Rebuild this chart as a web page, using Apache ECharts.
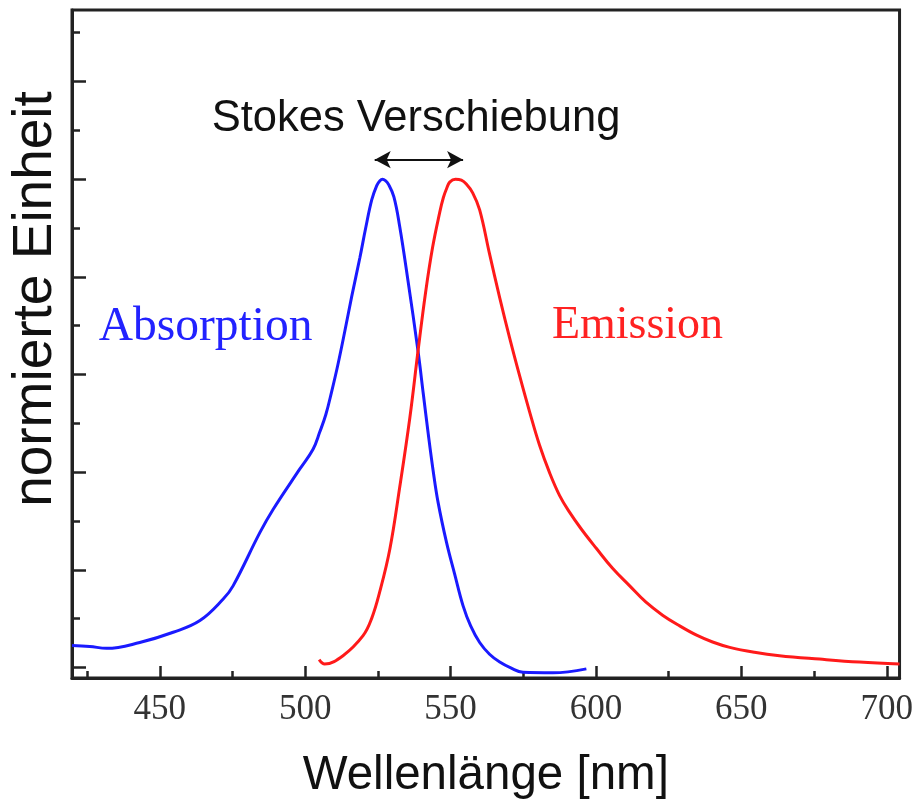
<!DOCTYPE html>
<html>
<head>
<meta charset="utf-8">
<script src="https://cdn.jsdelivr.net/npm/echarts@6/dist/echarts.min.js"></script>
<style>
  html, body { margin: 0; padding: 0; background: #ffffff; }
  #chart { width: 916px; height: 805px; }
</style>
</head>
<body>
<div id="chart"></div>
<script>
// Absorption spectrum (normalised)
const absWavelength = [419.8, 425.9, 431.7, 443.1, 454.6, 463.8, 471.8, 475.2, 484.4, 489.0,
  498.1, 502.7, 505.0, 507.1, 509.1, 511.2, 513.6, 516.0, 518.8, 520.8,
  522.9, 524.6, 525.7, 526.6, 527.6, 528.6, 530.5, 532.5, 535.3, 538.8,
  540.6, 542.3, 544.0, 545.7, 548.6, 551.4, 554.3, 556.9, 560.0, 563.4,
  566.9, 570.7, 574.9, 585.2, 596.7];
const absIntensity = [0.045, 0.043, 0.039, 0.051, 0.072, 0.096, 0.140, 0.167, 0.276, 0.324,
  0.406, 0.447, 0.482, 0.518, 0.565, 0.619, 0.688, 0.760, 0.839, 0.900,
  0.958, 0.987, 0.997, 1.000, 0.997, 0.990, 0.964, 0.903, 0.794, 0.648,
  0.561, 0.479, 0.403, 0.338, 0.256, 0.191, 0.126, 0.085, 0.051, 0.027,
  0.011, -0.001, -0.010, -0.011, -0.003];

// Emission spectrum (normalised)
const emWavelength = [504.8, 506.7, 513.0, 519.9, 522.9, 525.6, 529.1, 532.5, 536.0, 538.8,
  541.4, 543.8, 546.3, 547.5, 548.7, 549.7, 551.7, 553.7, 555.4, 557.6,
  560.0, 563.4, 566.9, 570.3, 573.8, 577.2, 580.6, 584.1, 587.5, 590.9,
  595.0, 600.1, 605.7, 611.6, 617.1, 622.9, 628.8, 634.6, 640.1, 646.0,
  654.5, 663.1, 676.9, 690.6, 704.4];
const emIntensity = [0.016, 0.007, 0.024, 0.065, 0.101, 0.154, 0.242, 0.369, 0.512, 0.648,
  0.768, 0.860, 0.933, 0.962, 0.982, 0.994, 1.000, 0.998, 0.990, 0.972,
  0.937, 0.847, 0.757, 0.675, 0.596, 0.523, 0.455, 0.398, 0.352, 0.318,
  0.283, 0.244, 0.203, 0.167, 0.134, 0.107, 0.085, 0.066, 0.052, 0.041,
  0.031, 0.024, 0.017, 0.011, 0.007];

// Axis ticks
const xMajorTicks = [450, 500, 550, 600, 650, 700];
const xMinorTicks = [425, 475, 525, 575, 625, 675];
const yMajorTicks = [0, 0.2, 0.4, 0.6, 0.8, 1.0, 1.2];
const yMinorTicks = [0.1, 0.3, 0.5, 0.7, 0.9, 1.1, 1.3];

// Stokes shift arrow (wavelength ends, height)
const stokesArrowX = [523.9, 554.3];
const stokesArrowY = 1.04;

const X_MIN = 419.8, X_MAX = 704.4;
const Y_MIN = -0.0217, Y_MAX = 1.3466;

const zip = (xs, ys) => xs.map((x, i) => [x, ys[i]]);

const axisColor = '#222222';
const chart = echarts.init(document.getElementById('chart'), null, { renderer: 'canvas' });

chart.setOption({
  animation: false,
  backgroundColor: '#ffffff',
  grid: {
    left: 72, right: 16, top: 10, bottom: 126,
    show: true, borderColor: axisColor, borderWidth: 3, backgroundColor: 'transparent'
  },
  xAxis: [
    {
      type: 'value', min: X_MIN, max: X_MAX, position: 'bottom',
      axisLine: { show: true, onZero: false, lineStyle: { color: axisColor, width: 3 } },
      axisTick: { show: true, inside: true, length: 12, customValues: xMajorTicks,
        lineStyle: { color: axisColor, width: 2.5 } },
      axisLabel: { show: true, customValues: xMajorTicks, margin: 14,
        fontFamily: 'Liberation Serif', fontSize: 35, color: '#333333' },
      splitLine: { show: false },
      name: 'Wellenlänge [nm]', nameLocation: 'middle', nameGap: 74,
      nameTextStyle: { fontFamily: 'Liberation Sans', fontSize: 47.5, color: '#111111' }
    },
    {
      type: 'value', min: X_MIN, max: X_MAX, position: 'bottom',
      axisLine: { show: false, onZero: false },
      axisTick: { show: true, inside: true, length: 7, customValues: xMinorTicks,
        lineStyle: { color: axisColor, width: 2.5 } },
      axisLabel: { show: false },
      splitLine: { show: false }
    }
  ],
  yAxis: [
    {
      type: 'value', min: Y_MIN, max: Y_MAX, position: 'left',
      axisLine: { show: true, onZero: false, lineStyle: { color: axisColor, width: 3 } },
      axisTick: { show: true, inside: true, length: 14, customValues: yMajorTicks,
        lineStyle: { color: axisColor, width: 2.5 } },
      axisLabel: { show: false },
      splitLine: { show: false }
    },
    {
      type: 'value', min: Y_MIN, max: Y_MAX, position: 'left',
      axisLine: { show: false, onZero: false },
      axisTick: { show: true, inside: true, length: 8, customValues: yMinorTicks,
        lineStyle: { color: axisColor, width: 2.5 } },
      axisLabel: { show: false },
      splitLine: { show: false }
    }
  ],
  series: [
    {
      name: 'Absorption', type: 'line', xAxisIndex: 0, yAxisIndex: 0,
      data: zip(absWavelength, absIntensity),
      smooth: 0.4, showSymbol: false, clip: true,
      lineStyle: { color: '#1a1aff', width: 3 }
    },
    {
      name: 'Emission', type: 'line', xAxisIndex: 0, yAxisIndex: 0,
      data: zip(emWavelength, emIntensity),
      smooth: 0.4, showSymbol: false, clip: true,
      lineStyle: { color: '#ff1a1a', width: 3 },
      markLine: {
        silent: true,
        symbol: ['arrow', 'arrow'],
        symbolSize: [13, 16],
        label: { show: false },
        lineStyle: { color: '#111111', width: 2.2, type: 'solid' },
        data: [[
          { coord: [stokesArrowX[0], stokesArrowY] },
          { coord: [stokesArrowX[1], stokesArrowY] }
        ]]
      }
    }
  ],
  graphic: [
    {
      type: 'text', x: 36, y: 299, rotation: Math.PI / 2,
      style: { text: 'normierte Einheit', fontFamily: 'Liberation Sans', fontSize: 55,
        fill: '#111111', align: 'center', verticalAlign: 'middle' }
    },
    {
      type: 'text', x: 416, y: 119,
      style: { text: 'Stokes Verschiebung', fontFamily: 'Liberation Sans', fontSize: 43.5,
        fill: '#111111', align: 'center', verticalAlign: 'middle' }
    },
    {
      type: 'text', x: 205.5, y: 328,
      style: { text: 'Absorption', fontFamily: 'Liberation Serif', fontSize: 47.5,
        fill: '#2222ff', align: 'center', verticalAlign: 'middle' }
    },
    {
      type: 'text', x: 637.5, y: 326,
      style: { text: 'Emission', fontFamily: 'Liberation Serif', fontSize: 46,
        fill: '#ff2222', align: 'center', verticalAlign: 'middle' }
    }
  ]
});
</script>
</body>
</html>
